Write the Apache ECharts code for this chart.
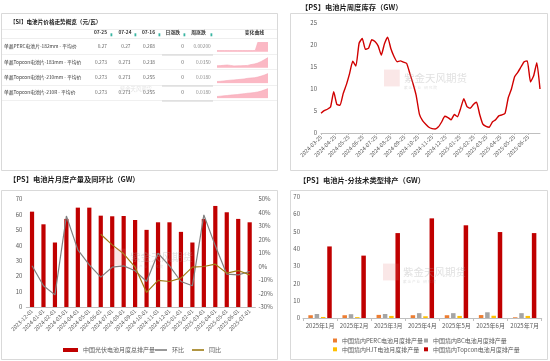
<!DOCTYPE html>
<html><head><meta charset="utf-8">
<script src="https://cdn.jsdelivr.net/npm/echarts@6/dist/echarts.min.js"></script>
<style>html,body{margin:0;padding:0;background:#fff}#c{width:550px;height:361px}</style>
</head><body><div id="c"></div>
<script>
// ---------- DATA ----------
const invStartDate = '2024-03-25';
const invValues = [4.5,5.1,5.4,5.9,9.4,6.5,6.3,9.0,11.0,13.5,16.3,15.2,20.4,21.5,19.0,19.3,21.2,20.8,19.8,17.7,
  20.3,21.8,19.2,17.4,16.2,16.4,16.1,15.8,13.5,11.2,8.5,4.3,2.8,2.0,1.3,1.0,0.9,1.4,2.5,3.8,
  3.5,3.0,4.2,3.7,5.6,7.8,6.0,5.6,6.5,7.0,4.2,2.0,1.5,1.3,2.5,3.0,3.9,4.1,4.5,8.0,
  10.0,12.8,13.8,15.0,16.2,16.4,11.6,13.0,16.0,10.0];

const monthCats = ['2023-12-01','2024-01-01','2024-02-01','2024-03-01','2024-04-01','2024-05-01','2024-06-01',
  '2024-07-01','2024-08-01','2024-09-01','2024-10-01','2024-11-01','2024-12-01','2025-01-01','2025-02-01',
  '2025-03-01','2025-04-01','2025-05-01','2025-06-01','2025-07-01'];
const monthOutput = [61.8,53.6,41.8,57.1,64.4,64.4,59.2,58.8,59.0,56.4,50.0,54.9,54.9,48.7,41.8,57.1,65.5,61.4,57.1,54.9];
const momPct = [0.5,-14.3,-21.0,37.4,12.3,1.2,-7.9,-0.5,0.5,-3.2,-11.1,9.8,0.5,-11.1,-14.3,38.2,15.3,-5.7,-6.2,-3.7];
const yoyPct = [null,null,null,null,null,null,23.9,16.0,9.4,-0.5,-19.2,-10.3,-11.1,-8.6,-0.5,0.0,1.7,-4.9,-3.0,-6.2];

const techCats = ['2025年1月','2025年2月','2025年3月','2025年4月','2025年5月','2025年6月','2025年7月'];
const percVals = [1.6,1.6,1.8,1.6,1.6,1.7,0.4];
const bcVals = [2.3,2.2,2.3,2.8,2.8,3.3,2.8];
const hjtVals = [0.6,0.5,1.2,1.0,1.2,1.3,1.2];
const topconVals = [41.3,36.0,49.0,57.5,53.5,49.6,49.0];

const tableHeaders = ['07-25','07-24','07-16','日涨跌','周涨跌','变化曲线'];
const tableRowNames = ['单晶PERC电池片-182mm - 平均价','单晶Topcon电池片-183mm - 平均价','单晶Topcon电池片-210mm - 平均价','单晶Topcon电池片-210R - 平均价'];
const colP0725 = ['0.27','0.273','0.273','0.273'];
const colP0724 = ['0.27','0.273','0.273','0.273'];
const colP0716 = ['0.268','0.238','0.255','0.255'];
const colDayChg = ['0','0','0','0'];
const colWeekChg = ['0.00200','0.0350','0.0180','0.0180'];
const spark1 = [0.2665,0.2665,0.2665,0.2665,0.2665,0.2665,0.2665,0.2665,0.2665,0.2665,0.2665,0.2665,0.2665,0.2665,0.2665,0.2666,0.27,0.27,0.27,0.27,0.27];
const spark2 = [0.2367,0.2372,0.2386,0.2400,0.2381,0.2358,0.2363,0.2367,0.2372,0.2381,0.2418,0.2446,0.2487,0.2556,0.2639,0.2726];
const spark3 = [0.2527,0.2532,0.2542,0.2553,0.2561,0.2568,0.2576,0.2584,0.2594,0.2610,0.2618,0.2626,0.2641,0.2667,0.2698,0.2732];
const spark4 = [0.2527,0.2535,0.2545,0.2553,0.2563,0.2570,0.2578,0.2590,0.2600,0.2612,0.2620,0.2630,0.2645,0.2668,0.2700,0.2732];

// ---------- helpers ----------
function addDays(s, n){const d=new Date(s+'T00:00:00Z');d.setUTCDate(d.getUTCDate()+n);return d.toISOString().slice(0,10);}
const invDates = invValues.map((v,i)=>addDays(invStartDate,7*i));
const dayCats = [];
for(let i=0;i<=7*(invValues.length-1);i++) dayCats.push(addDays(invStartDate,i));
const is25 = (idx,val)=> val.slice(8)==='25';

const FF = 'Noto Sans CJK SC';
const chart = echarts.init(document.getElementById('c'));

const g = [];
function rect(x,y,w,h,stroke){g.push({type:'rect',silent:true,shape:{x:x,y:y,width:w,height:h},style:{fill:'none',stroke:stroke||'#D9D9D9',lineWidth:1}});}
function line(x1,y1,x2,y2,c,w){g.push({type:'line',silent:true,shape:{x1:x1,y1:y1,x2:x2,y2:y2},style:{stroke:c,lineWidth:w||1}});}
function txt(t,x,y,o){o=o||{};g.push({type:'text',silent:true,z:o.z||10,style:{text:t,x:x,y:y,fill:o.color||'#333',fontSize:o.size||5,fontFamily:FF,fontWeight:o.bold?'bold':'normal',align:o.align||'left',verticalAlign:'middle'}});}
function box(x,y,w,h,c){g.push({type:'rect',silent:true,z:5,shape:{x:x,y:y,width:w,height:h},style:{fill:c}});}
function watermark(x,y,s){
  box(x,y-s*0.8,s*1.5,s*1.6,'rgba(225,120,120,0.18)');
  txt('紫金天风期货',x+s*1.9,y,{size:s,color:'rgba(160,160,160,0.33)'});
  txt('紫 金 产 业    研 究 院',x+s*1.9,y+s*0.9,{size:s*0.35,color:'rgba(160,160,160,0.3)'});
}

// panel borders
rect(1.5,13.5,276,157);
rect(290.5,13.5,257,157);
rect(1.5,190.5,276,169);
rect(290.5,190.5,257,169);

// titles
txt('【SI】电池片价格走势概览（元/瓦）',10,21.5,{size:5.6,bold:true,color:'#222'});
txt('【PS】电池片周度库存（GW）',301,7.5,{size:7.3,bold:true,color:'#222'});
txt('【PS】电池片月度产量及同环比（GW）',9,179.5,{size:7.3,bold:true,color:'#222'});
txt('【PS】电池片-分技术类型排产（GW）',299,180,{size:7.3,bold:true,color:'#222'});

// table
line(2,29.5,277,29.5,'#EEEEEE');
line(2,38.5,277,38.5,'#EEEEEE');
[54.5,69.5,85.5,100.5].forEach(y=>line(2,y,277,y,'#F0F0F0'));
[55,86,101].forEach(y=>line(162,y,213,y,'#CFCFCF',1.2));
const hdrRight = [107,131.5,155,180,205.7];
const iconX = [110.5,134.5,158.5,183.5,210.5];
tableHeaders.slice(0,5).forEach((h,i)=>{txt(h,hdrRight[i],32.5,{align:'right',size:4.8,bold:true,color:'#333'});
  g.push({type:'rect',silent:true,shape:{x:iconX[i],y:33.3,width:1.8,height:3},style:{fill:'#39B5A2'}});});
txt(tableHeaders[5],264,32.5,{align:'right',size:4.8,bold:true,color:'#333'});
const rowY = [46,62,77,92];
const valRight = [107,130.5,155,184,210.7];
const cols = [colP0725,colP0724,colP0716,colDayChg,colWeekChg];
tableRowNames.forEach((n,r)=>{
  txt(n,4,rowY[r],{size:4.8,color:'#333'});
  cols.forEach((c,ci)=>txt(c[r],valRight[ci],rowY[r],{align:'right',size:4.8,color:ci===4?'#8C8C8C':'#666'}));
});
txt('紫金天风期货',120,89,{size:5.3,color:'rgba(160,160,160,0.3)'});

watermark(384,78,10.5);
watermark(110,257,10.5);
watermark(383,272,10.5);

const axisLbl = {color:'#595959',fontSize:6,fontFamily:FF};
const sparkTops = [42.3,57.3,73.3,88.3];
const sparkH = [9.5,10.4,10,10];
const sparkData = [spark1,spark2,spark3,spark4];
const sparkMin = [0.266,0.228,0.248,0.248];
const sparkMax = [0.270,0.274,0.274,0.274];

const grids = [
  {left:321,top:23,width:219,height:110},
  {left:26.3,top:199,width:229.1,height:108},
  {left:303,top:196.7,width:238.7,height:121.3}
];
sparkTops.forEach((t,i)=>grids.push({left:217,top:t,width:51,height:sparkH[i]}));

const xAxis = [
  {gridIndex:0,type:'category',data:dayCats,boundaryGap:false,
   axisLine:{lineStyle:{color:'#BFBFBF'}},axisTick:{interval:is25,length:2,lineStyle:{color:'#BFBFBF'}},
   axisLabel:Object.assign({},axisLbl,{fontSize:5.5,interval:is25,rotate:45,margin:3})},
  {gridIndex:1,type:'category',data:monthCats,
   axisLine:{lineStyle:{color:'#BFBFBF'}},axisTick:{show:false},
   axisLabel:Object.assign({},axisLbl,{fontSize:5.5,interval:0,rotate:45,margin:3})},
  {gridIndex:2,type:'category',data:techCats,
   axisLine:{lineStyle:{color:'#BFBFBF'}},axisTick:{show:true,length:3,lineStyle:{color:'#BFBFBF'}},
   axisLabel:Object.assign({},axisLbl,{interval:0,margin:5})}
];
const yAxis = [
  {gridIndex:0,type:'value',min:0,max:25,interval:5,splitLine:{show:false},axisLine:{show:false},axisTick:{show:false},axisLabel:Object.assign({},axisLbl,{margin:4})},
  {gridIndex:1,type:'value',min:0,max:70,interval:10,splitLine:{show:false},axisLine:{show:false},axisTick:{show:false},axisLabel:Object.assign({},axisLbl,{margin:4})},
  {gridIndex:1,type:'value',position:'right',min:-30,max:50,interval:10,splitLine:{show:false},axisLine:{show:false},axisTick:{show:false},axisLabel:Object.assign({},axisLbl,{margin:3,formatter:'{value}%'})},
  {gridIndex:2,type:'value',min:0,max:70,interval:10,splitLine:{show:false},axisLine:{show:false},axisTick:{show:false},axisLabel:Object.assign({},axisLbl,{margin:3})}
];
const series = [
  {type:'line',xAxisIndex:0,yAxisIndex:0,data:invDates.map((d,i)=>[d,invValues[i]]),showSymbol:false,smooth:0.15,
   lineStyle:{color:'#D00000',width:1.4},itemStyle:{color:'#D00000'}},
  {name:'中国光伏电池月度总排产量',type:'bar',xAxisIndex:1,yAxisIndex:1,data:monthOutput,barWidth:4.2,itemStyle:{color:'#C00000'}},
  {name:'环比',type:'line',xAxisIndex:1,yAxisIndex:2,data:momPct,showSymbol:false,lineStyle:{color:'#808080',width:1.2},itemStyle:{color:'#808080'}},
  {name:'同比',type:'line',xAxisIndex:1,yAxisIndex:2,data:yoyPct,showSymbol:false,lineStyle:{color:'#9E7C14',width:1.2},itemStyle:{color:'#9E7C14'}},
  {name:'中国境内PERC电池月度排产量',type:'bar',xAxisIndex:2,yAxisIndex:3,data:percVals,barWidth:4.5,barGap:'40%',itemStyle:{color:'#ED7D31'}},
  {name:'中国境内BC电池月度排产量',type:'bar',xAxisIndex:2,yAxisIndex:3,data:bcVals,barWidth:4.5,barGap:'40%',itemStyle:{color:'#A5A5A5'}},
  {name:'中国境内HJT电池月度排产量',type:'bar',xAxisIndex:2,yAxisIndex:3,data:hjtVals,barWidth:4.5,barGap:'40%',itemStyle:{color:'#FFC000'}},
  {name:'中国境内Topcon电池月度排产量',type:'bar',xAxisIndex:2,yAxisIndex:3,data:topconVals,barWidth:4.5,barGap:'40%',itemStyle:{color:'#C00000'}}
];
sparkData.forEach((d,i)=>{
  xAxis.push({gridIndex:3+i,type:'category',data:d.map((v,k)=>k),boundaryGap:false,show:false});
  yAxis.push({gridIndex:3+i,type:'value',min:sparkMin[i],max:sparkMax[i],show:false,splitLine:{show:false}});
  series.push({type:'line',xAxisIndex:3+i,yAxisIndex:4+i,data:d,showSymbol:false,silent:true,
    lineStyle:{color:'#F7A9B8',width:0.6},areaStyle:{color:'#FBB8C4',opacity:1}});
});

const legText = {color:'#595959',fontSize:6,fontFamily:FF};
function leg(name,left,top,w,h){return {data:[name],left:left,top:top,itemWidth:w,itemHeight:h,icon:'rect',padding:0,itemGap:0,textStyle:legText,selectedMode:false};}
chart.setOption({
  animation:false,
  backgroundColor:'#fff',
  grid:grids, xAxis:xAxis, yAxis:yAxis, series:series,
  legend:[
    leg('中国光伏电池月度总排产量',63,347,15,4),
    leg('环比',155,347,12,1.6),
    leg('同比',192,347,12,1.6),
    leg('中国境内PERC电池月度排产量',333,337.5,4,4),
    leg('中国境内BC电池月度排产量',424,337.5,4,4),
    leg('中国境内HJT电池月度排产量',333,346.3,4,4),
    leg('中国境内Topcon电池月度排产量',424,346.3,4,4)
  ],
  graphic:g
});
</script></body></html>
